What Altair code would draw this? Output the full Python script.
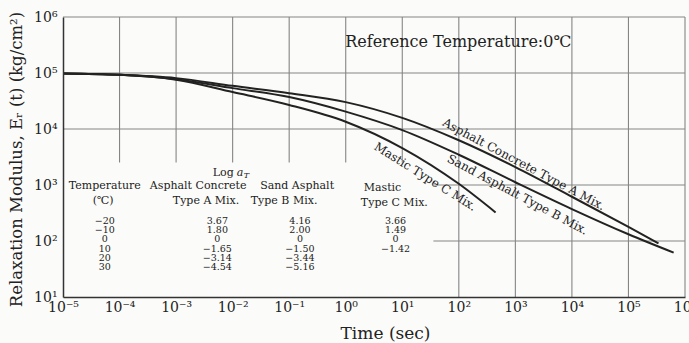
import json
import altair as alt
import pandas as pd

# ---------------- data ----------------
# Relaxation curves: time (sec) and relaxation modulus (kg/cm^2)
time_a = [1e-5, 1e-4, 1e-3, 1e-2, 1e-1, 1, 10, 100, 1e3, 1e4, 1e5, 3.4e5]
mod_a = [98000, 93000, 81000, 59000, 43600, 30200, 15800, 6300, 2090, 617, 178, 91]
time_b = [1e-5, 1e-4, 1e-3, 1e-2, 1e-1, 1, 10, 100, 1e3, 1e4, 1e5, 6.3e5]
mod_b = [98000, 93000, 77600, 53700, 37200, 20400, 9550, 3470, 1120, 372, 132, 62]
time_c = [1e-5, 1e-4, 1e-3, 1e-2, 1e-1, 1, 10, 100, 447]
mod_c = [98000, 93000, 75900, 45700, 26900, 13500, 4570, 1050, 324]

series_names = ["Asphalt Concrete Type A Mix.", "Sand Asphalt Type B Mix.", "Mastic Type C Mix."]

# shift-factor table
temps = [-20, -10, 0, 10, 20, 30]
log_at_a = [3.67, 1.80, 0, -1.65, -3.14, -4.54]
log_at_b = [4.16, 2.00, 0, -1.50, -3.44, -5.16]
log_at_c = [3.66, 1.49, 0, -1.42]

x_tick_values = [1e-5, 1e-4, 1e-3, 1e-2, 1e-1, 1, 10, 100, 1e3, 1e4, 1e5, 1e6]
x_tick_labels = ["10⁻⁵", "10⁻⁴", "10⁻³", "10⁻²", "10⁻¹", "10⁰", "10¹", "10²", "10³", "10⁴", "10⁵", "10⁶"]
y_tick_values = [10, 100, 1e3, 1e4, 1e5, 1e6]
y_tick_labels = ["10¹", "10²", "10³", "10⁴", "10⁵", "10⁶"]

# ---------------- styling ----------------
FONT = "DejaVu Serif"
BG = "#fbfbf9"
INK = "#222222"
GRID = "#858585"

x_scale = alt.Scale(type="log", domain=[1e-5, 1e6], nice=False)
y_scale = alt.Scale(type="log", domain=[10, 1e6], nice=False)

x_axis = alt.Axis(
    values=x_tick_values,
    labelExpr=json.dumps(x_tick_labels, ensure_ascii=False) + "[round(log(datum.value)/LN10)+5]",
    grid=False, ticks=False, domainColor="#333333", domainWidth=1.5,
    labelFont=FONT, labelFontSize=14, labelColor=INK, labelPadding=3,
    labelFlush=False, labelOverlap=False,
    title="Time (sec)", titleFont=FONT, titleFontSize=17, titleFontWeight="normal",
    titleColor=INK, titleX=322, titleY=41, titleAlign="center", titleBaseline="alphabetic",
    zindex=1,
)
y_axis = alt.Axis(
    values=y_tick_values,
    labelExpr=json.dumps(y_tick_labels, ensure_ascii=False) + "[round(log(datum.value)/LN10)-1]",
    grid=False, ticks=False, domainColor="#333333", domainWidth=1.5,
    labelFont=FONT, labelFontSize=14, labelColor=INK, labelPadding=6,
    labelFlush=False, labelOverlap=False,
    title="Relaxation Modulus, Eᵣ (t) (kg/cm²)", titleFont=FONT, titleFontSize=16.5,
    titleFontWeight="normal", titleColor=INK, titleX=-47, titleY=142, titleAngle=-90,
    titleAlign="center", titleBaseline="middle",
    zindex=1,
)

def X(field):
    return alt.X(field, type="quantitative", scale=x_scale, axis=x_axis)

def Y(field):
    return alt.Y(field, type="quantitative", scale=y_scale, axis=y_axis)

# ---------------- layers ----------------
grid_h = alt.Chart(pd.DataFrame({"E": [1e2, 1e3, 1e4, 1e5, 1e6]})).mark_rule(
    color=GRID, strokeWidth=1.1).encode(y=Y("E"))
grid_v = alt.Chart(pd.DataFrame({"t": x_tick_values[1:]})).mark_rule(
    color=GRID, strokeWidth=1.1).encode(x=X("t"))

mask = alt.Chart(pd.DataFrame({"t0": [1e-5], "t1": [10 ** 1.55], "E0": [10], "E1": [10 ** 3.4]})).mark_rect(
    color=BG).encode(x=X("t0"), x2="t1", y=Y("E0"), y2="E1")

curve_rows = []
for name, ts, es in zip(series_names, [time_a, time_b, time_c], [mod_a, mod_b, mod_c]):
    for i, (t, e) in enumerate(zip(ts, es)):
        curve_rows.append({"series": name, "t": t, "E": e, "order": i})
curves = alt.Chart(pd.DataFrame(curve_rows)).mark_line(
    color=INK, strokeWidth=2, interpolate="monotone").encode(
    x=X("t"), y=Y("E"), detail="series:N", order="order:Q")

def label(text, t, e, angle, size):
    return alt.Chart(pd.DataFrame({"t": [t], "E": [e], "label": [text]})).mark_text(
        font=FONT, fontSize=size, color=INK, angle=angle, align="center", baseline="middle").encode(
        x=X("t"), y=Y("E"), text="label:N")

lab_a = label(series_names[0], 10 ** 3.15, 10 ** 3.37, 28, 12)
lab_b = label(series_names[1], 10 ** 3.04, 10 ** 2.83, 28, 12)
lab_c = label(series_names[2], 10 ** 1.41, 10 ** 3.15, 32, 12)
ref_title = label("Reference Temperature:0℃", 10 ** 1.99, 10 ** 5.55, 0, 16)

# table
def fmt(v):
    if v == 0:
        return "0"
    return f"{v:.2f}".replace("-", "−")

col_t = {"temp": -4.26, "A": -2.27, "B": -0.81, "C": 0.88}
row_logE = [2.36 - 0.165 * i for i in range(6)]
val_rows = []
for i, tc in enumerate(temps):
    val_rows.append({"t": 10 ** col_t["temp"], "E": 10 ** row_logE[i], "label": str(tc).replace("-", "−")})
    val_rows.append({"t": 10 ** col_t["A"], "E": 10 ** row_logE[i], "label": fmt(log_at_a[i])})
    val_rows.append({"t": 10 ** col_t["B"], "E": 10 ** row_logE[i], "label": fmt(log_at_b[i])})
    if i < len(log_at_c):
        val_rows.append({"t": 10 ** col_t["C"], "E": 10 ** row_logE[i], "label": fmt(log_at_c[i])})
table_vals = alt.Chart(pd.DataFrame(val_rows)).mark_text(
    font=FONT, fontSize=9.5, color=INK, align="center", baseline="middle").encode(
    x=X("t"), y=Y("E"), text="label:N")

head_rows = [
    {"t": 10 ** -4.26, "E": 10 ** 2.98, "label": "Temperature"},
    {"t": 10 ** -2.61, "E": 10 ** 2.98, "label": "Asphalt Concrete"},
    {"t": 10 ** -0.86, "E": 10 ** 2.98, "label": "Sand Asphalt"},
    {"t": 10 ** 0.65, "E": 10 ** 2.95, "label": "Mastic"},
    {"t": 10 ** -4.29, "E": 10 ** 2.71, "label": "(℃)"},
    {"t": 10 ** -2.47, "E": 10 ** 2.71, "label": "Type A Mix."},
    {"t": 10 ** -1.09, "E": 10 ** 2.71, "label": "Type B Mix."},
    {"t": 10 ** 0.86, "E": 10 ** 2.68, "label": "Type C Mix."},
]
table_head = alt.Chart(pd.DataFrame(head_rows)).mark_text(
    font=FONT, fontSize=11, color=INK, align="center", baseline="middle").encode(
    x=X("t"), y=Y("E"), text="label:N")

log_word = alt.Chart(pd.DataFrame({"t": [10 ** -1.98], "E": [10 ** 3.21], "label": ["Log"]})).mark_text(
    font=FONT, fontSize=11, color=INK, align="right", baseline="middle").encode(
    x=X("t"), y=Y("E"), text="label:N")
log_a = alt.Chart(pd.DataFrame({"t": [10 ** -1.98], "E": [10 ** 3.21], "label": ["a"]})).mark_text(
    font=FONT, fontSize=11, fontStyle="italic", color=INK, align="left", baseline="middle", dx=3).encode(
    x=X("t"), y=Y("E"), text="label:N")
log_T = alt.Chart(pd.DataFrame({"t": [10 ** -1.98], "E": [10 ** 3.21], "label": ["T"]})).mark_text(
    font=FONT, fontSize=8, fontStyle="italic", color=INK, align="left", baseline="middle", dx=10, dy=3).encode(
    x=X("t"), y=Y("E"), text="label:N")

chart = alt.layer(
    grid_h, grid_v, mask, curves, lab_a, lab_b, lab_c, ref_title,
    table_head, table_vals, log_word, log_a, log_T,
).properties(
    width=622, height=280,
    autosize=alt.AutoSizeParams(type="none"),
    padding={"left": 63, "top": 17, "right": 4, "bottom": 46},
    background=BG,
).configure_view(stroke=None)

chart.save("out.html", embed_options={"renderer": "svg", "actions": False})
